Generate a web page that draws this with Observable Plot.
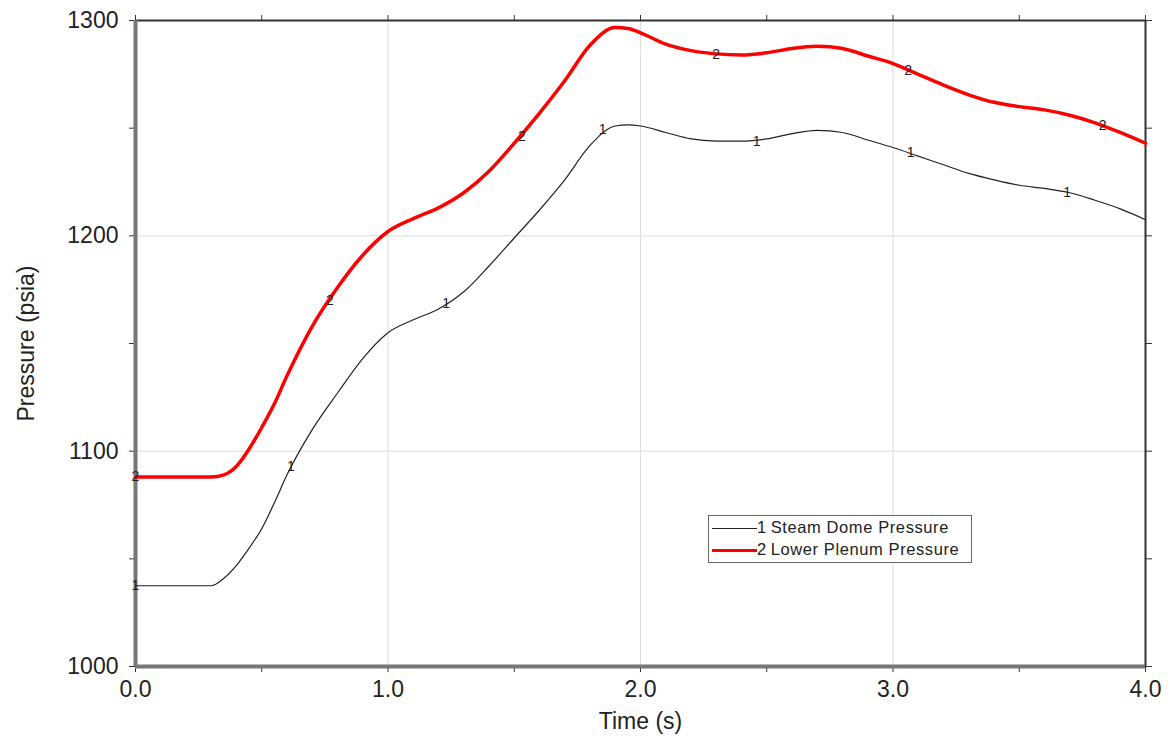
<!DOCTYPE html>
<html><head><meta charset="utf-8">
<script src="https://cdn.jsdelivr.net/npm/d3@7"></script>
<script src="https://cdn.jsdelivr.net/npm/@observablehq/plot@0.6"></script>
<style>
body{margin:0;background:#fff;font-family:"Liberation Sans",Arial,Helvetica,sans-serif;}
#wrap{position:relative;width:1172px;height:746px;}
#legend{position:absolute;left:708px;top:515px;width:264px;height:48px;border:1.5px solid #666;background:#fff;box-sizing:border-box;font-size:16.5px;color:#222;letter-spacing:0.6px;}
.row{position:absolute;left:3px;height:20px;line-height:20px;white-space:nowrap;}
.sw{display:inline-block;width:45px;vertical-align:middle;}
</style></head>
<body><div id="wrap"><div id="chart"></div>
<div id="legend">
 <div class="row" style="top:1px"><span class="sw" style="border-top:1.2px solid #222"></span>1&#8201;Steam Dome Pressure</div>
 <div class="row" style="top:23px"><span class="sw" style="border-top:3.5px solid #f00"></span>2&#8201;Lower Plenum Pressure</div>
</div></div>
<script>
const times = [0,0.1,0.2,0.3,0.35,0.4,0.45,0.5,0.55,0.6,0.7,0.8,0.9,1.0,1.1,1.2,1.3,1.4,1.5,1.6,1.7,1.8,1.9,1.95,2.0,2.1,2.2,2.3,2.4,2.5,2.6,2.7,2.8,2.9,3.0,3.1,3.2,3.3,3.4,3.5,3.6,3.7,3.8,3.9,4.0];
const steamDome = [1037.5,1037.5,1037.5,1037.5,1041,1047,1055,1064,1076,1089,1110,1127,1143,1155,1161,1166,1174,1186,1199,1212,1226,1242,1251,1251.5,1251,1248,1245,1244,1244,1245,1247.5,1249,1248,1244.5,1241,1237,1233,1229,1226,1223.5,1222,1220,1216.5,1212.5,1207.5];
const lowerPlenum = [1088,1088,1088,1088,1089,1093,1101,1111,1122,1135,1158,1176,1191,1202,1208,1213,1220,1230,1243,1257,1272,1288.5,1296.7,1296.3,1294.3,1289,1286,1284.5,1284,1285,1287,1288,1287,1283.5,1280,1275,1270,1265.5,1262,1260,1258.5,1256,1252.5,1248,1243];
const marker1Times = [0,0.615,1.23,1.85,2.46,3.07,3.69];
const marker1Values = [1037.5,1093,1168.5,1249.5,1244,1238.5,1220];
const marker2Times = [0,0.77,1.53,2.3,3.06,3.83];
const marker2Values = [1088,1170,1246,1284,1277,1251];
const xMinorTicks = [0,0.5,1,1.5,2,2.5,3,3.5,4];
const xLabelTicks = [0,1,2,3,4];
const yMinorTicks = [1000,1050,1100,1150,1200,1250,1300];
const yLabelTicks = [1000,1100,1200,1300];
const xGrid = [1,2,3];
const yGrid = [1100,1200];

const s1 = times.map((t,i)=>({t, v: steamDome[i]}));
const s2 = times.map((t,i)=>({t, v: lowerPlenum[i]}));
const m1 = marker1Times.map((t,i)=>({t, v: marker1Values[i]}));
const m2 = marker2Times.map((t,i)=>({t, v: marker2Values[i]}));

const chart = Plot.plot({
  width: 1172, height: 746,
  marginLeft: 135, marginRight: 27, marginTop: 20, marginBottom: 80,
  style: {fontFamily: '"Liberation Sans", Arial, Helvetica, sans-serif', fontSize: "22px", color: "#222", background: "#fff"},
  x: {domain: [0,4]},
  y: {domain: [1000,1300]},
  marks: [
    Plot.gridX(xGrid, {stroke: "#ddd", strokeOpacity: 1, strokeWidth: 1}),
    Plot.gridY(yGrid, {stroke: "#ddd", strokeOpacity: 1, strokeWidth: 1}),
    Plot.axisX({ticks: xMinorTicks, tickFormat: () => "", tickSize: 6, stroke: "#333", label: null}),
    Plot.axisX({ticks: xLabelTicks, tickFormat: d => d.toFixed(1), tickSize: 0, tickPadding: 14, fontSize: 23, label: "Time (s)", labelAnchor: "center", labelArrow: "none", labelOffset: 62}),
    Plot.axisX({anchor: "top", ticks: xMinorTicks, tickFormat: () => "", tickSize: 6, stroke: "#333", label: null}),
    Plot.axisY({ticks: yMinorTicks, tickFormat: () => "", tickSize: 6, stroke: "#333", label: null}),
    Plot.axisY({ticks: yLabelTicks, tickFormat: d => String(d), tickSize: 0, tickPadding: 17, fontSize: 23, label: "Pressure (psia)", labelAnchor: "center", labelArrow: "none", labelOffset: 118}),
    Plot.axisY({anchor: "right", ticks: yMinorTicks, tickFormat: () => "", tickSize: 6, stroke: "#333", label: null}),
    Plot.ruleX([4], {stroke: "#333", strokeWidth: 2}),
    Plot.ruleY([1300], {stroke: "#333", strokeWidth: 2}),
    Plot.ruleX([0], {stroke: "#777", strokeWidth: 4}),
    Plot.ruleY([1000], {stroke: "#777", strokeWidth: 4}),
    Plot.line(s2, {x: "t", y: "v", stroke: "#f00", strokeWidth: 3.5, curve: "monotone-x"}),
    Plot.line(s1, {x: "t", y: "v", stroke: "#222", strokeWidth: 1.2, curve: "monotone-x"}),
    Plot.text(m1, {x: "t", y: "v", text: () => "1", fill: "#222", fontSize: 14}),
    Plot.text(m2, {x: "t", y: "v", text: () => "2", fill: "#222", fontSize: 14})
  ]
});
document.getElementById("chart").appendChild(chart);
</script></body></html>
